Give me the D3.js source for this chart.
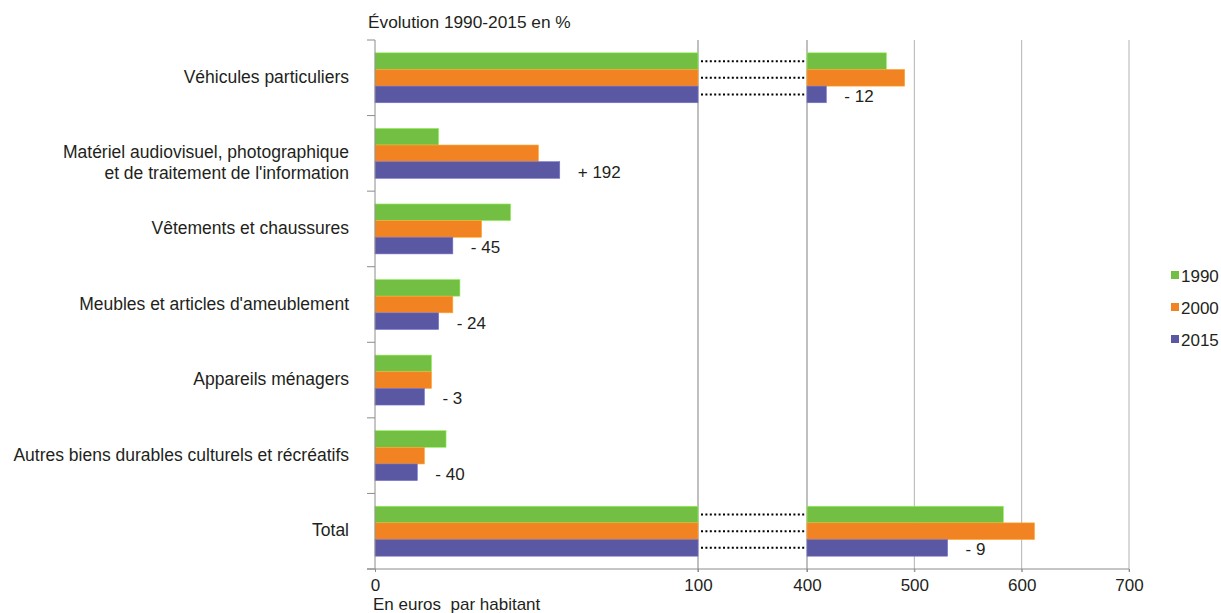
<!DOCTYPE html>
<html>
<head>
<meta charset="utf-8">
<script src="https://cdn.jsdelivr.net/npm/d3@7"></script>
<style>
  html, body { margin: 0; padding: 0; background: #fff; }
  svg { display: block; }
  text { font-family: "Liberation Sans", Arial, Helvetica, sans-serif; fill: #231f20; }
</style>
</head>
<body>
<svg id="chart" width="1221" height="613"></svg>
<script>
// ---- Data ----
const categories = [
  "Véhicules particuliers",
  "Matériel audiovisuel, photographique\net de traitement de l'information",
  "Vêtements et chaussures",
  "Meubles et articles d'ameublement",
  "Appareils ménagers",
  "Autres biens durables culturels et récréatifs",
  "Total"
];
const years = ["1990", "2000", "2015"];
const values1990 = [474, 19.7, 42, 26.3, 17.5, 22.0, 583];
const values2000 = [491, 50.6, 33, 24.1, 17.5, 15.3, 612];
const values2015 = [418, 57.2, 24.1, 19.7, 15.3, 13.1, 531];
const changeLabels = ["- 12", "+ 192", "- 45", "- 24", "- 3", "- 40", "- 9"];
const xTicks = [0, 100, 400, 500, 600, 700];
const colors = { "1990": "#72bf44", "2000": "#f28322", "2015": "#5b58a3" };

const series = { "1990": values1990, "2000": values2000, "2015": values2015 };

// ---- Layout ----
const svg = d3.select("#chart");
const plotTop = 40, plotBottom = 569;
const x = d3.scaleLinear().domain([0, 100, 400, 700]).range([375, 698, 807, 1129]);
const y = d3.scaleBand().domain(categories).range([plotTop, plotBottom]).paddingInner(0).paddingOuter(0);
const ys = d3.scaleBand().domain(years).range([0, y.bandwidth()]).paddingInner(0).paddingOuter(0.77);

const breakLo = 100, breakHi = 400;
function segments(v) {
  return v > breakLo ? [[0, breakLo], [breakHi, v]] : [[0, v]];
}

// Gridlines
const grid = svg.append("g");
xTicks.filter(t => t > 0).forEach(t => {
  grid.append("line")
    .attr("x1", x(t)).attr("x2", x(t))
    .attr("y1", plotTop).attr("y2", plotBottom + 3)
    .attr("stroke", (t === breakLo || t === breakHi) ? "#808080" : "#b3b3b3")
    .attr("stroke-width", 1);
});

// Bars
const barsG = svg.append("g");
categories.forEach((cat, i) => {
  years.forEach(yr => {
    const v = series[yr][i];
    const y0 = y(cat) + ys(yr);
    const h = ys.bandwidth();
    segments(v).forEach(([a, b]) => {
      barsG.append("rect")
        .attr("x", x(a)).attr("y", y0)
        .attr("width", x(b) - x(a)).attr("height", h)
        .attr("fill", colors[yr])
        .attr("stroke", d3.color(colors[yr]).brighter(0.7))
        .attr("stroke-width", 0.6);
    });
    if (v > breakLo) {
      barsG.append("line")
        .attr("x1", x(breakLo) + 3).attr("x2", x(breakHi) - 2)
        .attr("y1", y0 + h / 2).attr("y2", y0 + h / 2)
        .attr("stroke", "#000")
        .attr("stroke-width", 2)
        .attr("stroke-dasharray", "2,2.4");
    }
  });
  // change label
  const v15 = values2015[i];
  svg.append("text")
    .attr("x", x(v15) + 18)
    .attr("y", y(cat) + ys("2015") + ys.bandwidth() / 2 + 7.5)
    .attr("font-size", 17)
    .text(changeLabels[i]);
});

// Y axis
const yAxisG = svg.append("g").attr("stroke", "#8c8c8c").attr("stroke-width", 1);
yAxisG.append("line").attr("x1", x(0)).attr("x2", x(0)).attr("y1", plotTop).attr("y2", plotBottom);
categories.map(c => y(c)).concat([plotBottom]).forEach(yy => {
  yAxisG.append("line").attr("x1", x(0) - 8).attr("x2", x(0)).attr("y1", yy).attr("y2", yy);
});

// Category labels
categories.forEach(cat => {
  const lines = cat.split("\n");
  const cy = y(cat) + y.bandwidth() / 2;
  const t = svg.append("text")
    .attr("text-anchor", "end")
    .attr("font-size", 17.5);
  lines.forEach((ln, k) => {
    t.append("tspan").attr("x", x(0) - 26).attr("y", cy + 5 + k * 21).text(ln);
  });
});

// X axis
svg.append("line")
  .attr("x1", x(0) - 8).attr("x2", x(700))
  .attr("y1", plotBottom).attr("y2", plotBottom)
  .attr("stroke", "#8c8c8c").attr("stroke-width", 1);
const xAxis = d3.axisBottom(x).tickValues(xTicks).tickSize(3).tickPadding(7).tickFormat(d3.format("d"));
const xg = svg.append("g").attr("transform", `translate(0,${plotBottom})`).call(xAxis);
xg.select(".domain").remove();
xg.selectAll(".tick line").attr("stroke", "#8c8c8c");
xg.selectAll(".tick text").attr("font-size", 17).attr("font-family", "Liberation Sans, Arial, sans-serif").attr("fill", "#231f20");

// Titles
svg.append("text").attr("x", 368).attr("y", 28).attr("font-size", 17.3).text("Évolution 1990-2015 en %");
svg.append("text").attr("x", 373).attr("y", 610).attr("font-size", 17)
  .style("white-space", "pre").text("En euros  par habitant");

// Legend
const legend = svg.append("g");
years.forEach((yr, k) => {
  const cy = 275.5 + k * 32;
  legend.append("rect").attr("x", 1171).attr("y", cy - 4.5).attr("width", 8).attr("height", 8).attr("fill", colors[yr]);
  legend.append("text").attr("x", 1181).attr("y", cy + 6).attr("font-size", 17).text(yr);
});
</script>
</body>
</html>
